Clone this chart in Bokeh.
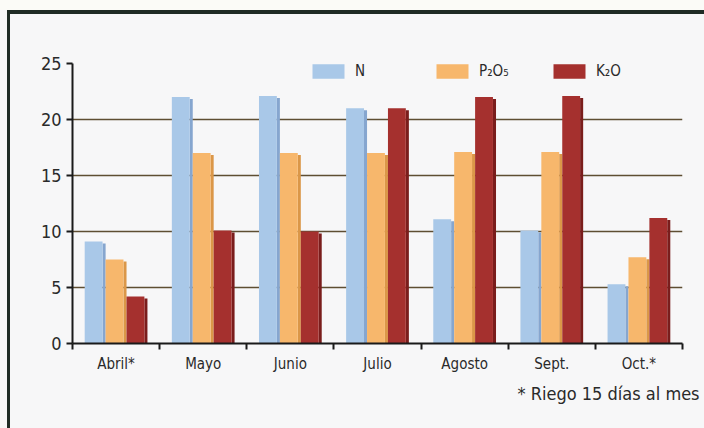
from bokeh.plotting import figure
from bokeh.models import FixedTicker, Legend, LegendItem, Title, Range1d
from bokeh.embed import file_html
from bokeh.resources import INLINE

months = ["Abril*", "Mayo", "Junio", "Julio", "Agosto", "Sept.", "Oct.*"]
N = [9.1, 22.0, 22.1, 21.0, 11.1, 10.1, 5.3]
P2O5 = [7.5, 17.0, 17.0, 17.0, 17.1, 17.1, 7.7]
K2O = [4.2, 10.1, 10.0, 21.0, 22.0, 22.1, 11.2]
series_names = ["N", "P\u2082O\u2085", "K\u2082O"]
y_ticks = [0, 5, 10, 15, 20, 25]
footnote = "* Riego 15 días al mes"

face_colors = ["#a9c8e8", "#f7b76c", "#a5302e"]
shade_colors = ["#86a6cf", "#db9748", "#7a1d1c"]

FONT = "DejaVu Sans Condensed"

p = figure(width=704, height=428, output_backend="svg", toolbar_location=None,
           x_range=Range1d(0, len(months)), y_range=Range1d(0, 25),
           min_border_left=72, min_border_right=22, min_border_top=63,
           min_border_bottom=85)
# page frame (white strip on top, dark top rule and dark left rule) painted
# as the host element's CSS background behind a transparent border area
p.styles = {"background":
            "linear-gradient(#1f2b25,#1f2b25) 7px 10px / 3px 418px no-repeat, "
            "linear-gradient(#1f2b25,#1f2b25) 7px 10px / 697px 4px no-repeat, "
            "linear-gradient(#fbfbf7,#fbfbf7) 0px 0px / 704px 10px no-repeat, "
            "#f7f7f8"}
p.background_fill_color = "#f7f7f8"
p.border_fill_alpha = 0
p.outline_line_color = None

bar_w = 0.24
shade_w = 0.035
offsets = [-bar_w, 0.0, bar_w]
renderers = []
for k, vals in enumerate([N, P2O5, K2O]):
    xs = [i + 0.5 + offsets[k] for i in range(len(months))]
    shade_x = [x + bar_w / 2 - shade_w / 2 for x in xs]
    shade_top = [v - 0.18 for v in vals]
    p.vbar(x=shade_x, top=shade_top, bottom=0, width=shade_w,
           fill_color=shade_colors[k], line_color=None)
    face_x = [x - shade_w / 2 for x in xs]
    r = p.vbar(x=face_x, top=vals, bottom=0, width=bar_w - shade_w,
               fill_color=face_colors[k], line_color=None)
    renderers.append(r)

# axes
xa = p.xaxis[0]
xa.ticker = FixedTicker(ticks=[i + 0.5 for i in range(len(months))],
                        minor_ticks=list(range(len(months) + 1)))
xa.major_label_overrides = {i + 0.5: m for i, m in enumerate(months)}
xa.major_tick_out = 0
xa.major_tick_in = 0
xa.minor_tick_out = 6
xa.minor_tick_in = 0
xa.minor_tick_line_color = "#1a1a1a"
xa.minor_tick_line_width = 2
xa.axis_line_color = "#1a1a1a"
xa.axis_line_width = 2
xa.major_label_text_font = FONT
xa.major_label_text_font_size = "15px"
xa.major_label_text_color = "#2a2a2a"
xa.major_label_standoff = 5

ya = p.yaxis[0]
ya.ticker = FixedTicker(ticks=y_ticks)
ya.major_tick_out = 6
ya.major_tick_in = 0
ya.minor_tick_line_color = None
ya.major_tick_line_color = "#1a1a1a"
ya.major_tick_line_width = 2
ya.axis_line_color = "#1a1a1a"
ya.axis_line_width = 2
ya.major_label_text_font = FONT
ya.major_label_text_font_size = "18px"
ya.major_label_text_color = "#2a2a2a"
ya.major_label_standoff = 5

p.xgrid.grid_line_color = None
p.ygrid.grid_line_color = "#5e4e32"
p.ygrid.grid_line_width = 1.3
p.ygrid.ticker = FixedTicker(ticks=y_ticks[1:])

# legends
leg_x = [236, 360, 477]
for k in range(3):
    leg = Legend(items=[LegendItem(label=series_names[k], renderers=[renderers[k]])],
                 location=(leg_x[k], 262), padding=0, margin=0,
                 border_line_color=None, background_fill_alpha=0,
                 glyph_width=40, glyph_height=18, label_standoff=7,
                 label_height=20,
                 label_text_font=FONT, label_text_font_size="15px",
                 label_text_color="#2a2a2a")
    p.add_layout(leg)

p.add_layout(Title(text=footnote, align="left", text_font=FONT,
                   text_font_size="18px", text_font_style="normal",
                   text_color="#2a2a2a", offset=445, standoff=10), "below")

open("out.html", "w").write(file_html(p, INLINE))
